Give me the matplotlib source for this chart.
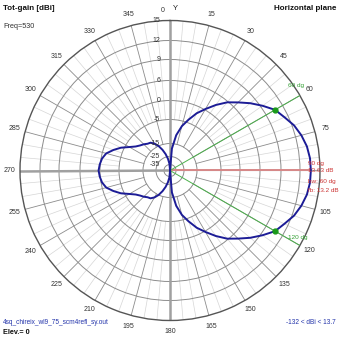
import numpy as np
import matplotlib
matplotlib.use('Agg')
import matplotlib.pyplot as plt

plt.rcParams['font.family'] = ['Liberation Sans', 'DejaVu Sans']

# radiation pattern, total gain in dBi, azimuth every 5 degrees (0 = Y axis, clockwise)
azimuth = list(range(0, 360, 5))
gain_dbi = [-132, -18.8, -11.3, -7.1, -4.2, -1.8, 0.3, 3.0, 5.7, 6.9, 8.1, 9.3,
            10.63, 11.4, 12.3, 12.9, 13.35, 13.58, 13.63, 13.58, 13.35, 12.9, 12.3, 11.4,
            10.63, 9.3, 8.1, 6.9, 5.7, 3.0, 0.3, -1.8, -4.2, -7.1, -11.3, -18.8,
            -132, -33.8, -27.5, -22.7, -18.8, -15.0, -13.3, -12.1, -11.7, -10.8, -10.0, -8.8,
            -6.7, -4.2, -2.6, -1.05, -0.26, 0.15, 0.43, 0.15, -0.26, -1.05, -2.6, -4.2,
            -6.7, -8.8, -10.0, -10.8, -11.7, -12.1, -13.3, -15.0, -18.8, -22.7, -27.5, -33.8]

max_az, max_gain = 90, 13.63
bw_az = [60, 120]
bw_gain = [10.63, 10.63]

# gain circles and the radius (in px of a 150 px plot) each one sits at
ring_db = [-140, -35, -25, -15, -5, 0, 6, 9, 12, 15]
ring_px = [0, 6, 14, 27, 51, 70, 90, 111, 130, 150]
ring_labels = ['-35', '-25', '-15', '-5', '0', '6', '9', '12', '15']


def fwd(v):
    return np.interp(v, ring_db, ring_px)


def inv(v):
    return np.interp(v, ring_px, ring_db)


W = H = 339
fig = plt.figure(figsize=(3.39, 3.39), dpi=100)
fig.patch.set_facecolor('white')
ax = fig.add_axes([20 / W, 18.5 / H, 300 / W, 300 / H], projection='polar')
ax.set_theta_zero_location('N')
ax.set_theta_direction(-1)
ax.set_yscale('function', functions=(fwd, inv))
ax.set_ylim(-140, 15)

ax.set_xticks([])
ax.set_yticks(ring_db[1:-1])
ax.set_yticklabels([])
ax.tick_params(length=0)
ax.yaxis.grid(True, color='#8c8c8c', lw=0.7)
ax.spines['polar'].set_color('#555555')
ax.spines['polar'].set_linewidth(1.0)

r0, r1 = ring_db[0], ring_db[-1]

# spokes: every 15 deg from -15 dB, light ones every 5 deg from -5 dB
for a in range(0, 360, 5):
    t = np.deg2rad(a)
    if a % 15 == 0:
        ax.plot([t, t], [-15, r1], color='#8c8c8c', lw=0.6, zorder=1)
    else:
        ax.plot([t, t], [-5, r1], color='#d6d6d6', lw=0.5, zorder=0.9)

# main axes
for a in (0, 180, 270):
    ax.plot([np.deg2rad(a)] * 2, [r0, r1], color='#a0a0a0', lw=1.8, zorder=2)
ax.plot([np.deg2rad(90)] * 2, [r0, r1], color='#a0a0a0', lw=0.8, zorder=2)
ax.plot([np.deg2rad(max_az)] * 2, [r0, max_gain], color='#d88888', lw=1.4, zorder=3)

# beamwidth directions
for a in bw_az:
    ax.plot([np.deg2rad(a)] * 2, [r0, r1], color='#4cb04c', lw=0.7, zorder=3)

theta = np.deg2rad(azimuth + [360])
ax.plot(theta, gain_dbi + [gain_dbi[0]], color='#1c1c96', lw=1.4, zorder=4)
ax.plot(np.deg2rad(bw_az), bw_gain, 'o', color='#1a9a1a', ms=3.5, zorder=5)

# gain labels along the Y axis
for lvl, lbl in zip(ring_db[1:], ring_labels):
    ax.annotate(lbl, (0, lvl), xytext=(-7, 0), textcoords='offset points',
                ha='right', va='center', fontsize=5, color='#333333', zorder=6)

# azimuth labels
for a in range(15, 360, 15):
    if a == 90:
        continue
    t = np.deg2rad(a)
    ax.text(0.5 + 161 / 300 * np.sin(t), 0.5 + 161 / 300 * np.cos(t), str(a),
            transform=ax.transAxes, ha='center', va='center', fontsize=5,
            color='#333333')


def ftext(x, y, s, **kw):
    fig.text(x / W, 1 - y / H, s, va='center', **kw)


ftext(163, 10, '0', ha='center', fontsize=5, color='#333333')
ftext(175, 9, 'Y', ha='center', fontsize=5.5, color='#222222')
ftext(3, 8, 'Tot-gain [dBi]', fontsize=5.8, fontweight='bold', color='#111111')
ftext(3, 27, 'Freq=530', fontsize=5.2, color='#333333')
ftext(336, 8, 'Horizontal plane', ha='right', fontsize=5.8, fontweight='bold',
      color='#111111')

red = '#cc3333'
ftext(308, 163, '90 dg', fontsize=4.6, color=red)
ftext(308, 171, '13.63 dB', fontsize=4.6, color=red)
ftext(308, 181, 'bw: 60 dg', fontsize=4.6, color=red)
ftext(308, 190, 'fb: 13.2 dB', fontsize=4.6, color=red)

green = '#33a033'
ftext(288, 86, '60 dg', fontsize=4.6, color=green)
ftext(288, 238, '120 dg', fontsize=4.6, color=green)

ftext(3, 322, '4sq_chireix_wl9_75_scm4refl_sy.out', fontsize=4.7, color='#2233aa')
ftext(3, 333, 'Elev.= 0', fontsize=5.2, fontweight='bold', color='#111111')
ftext(336, 323, '-132 < dBi < 13.7', ha='right', fontsize=4.7, color='#2233aa')

fig.savefig('out.png', dpi=100, facecolor='white')
